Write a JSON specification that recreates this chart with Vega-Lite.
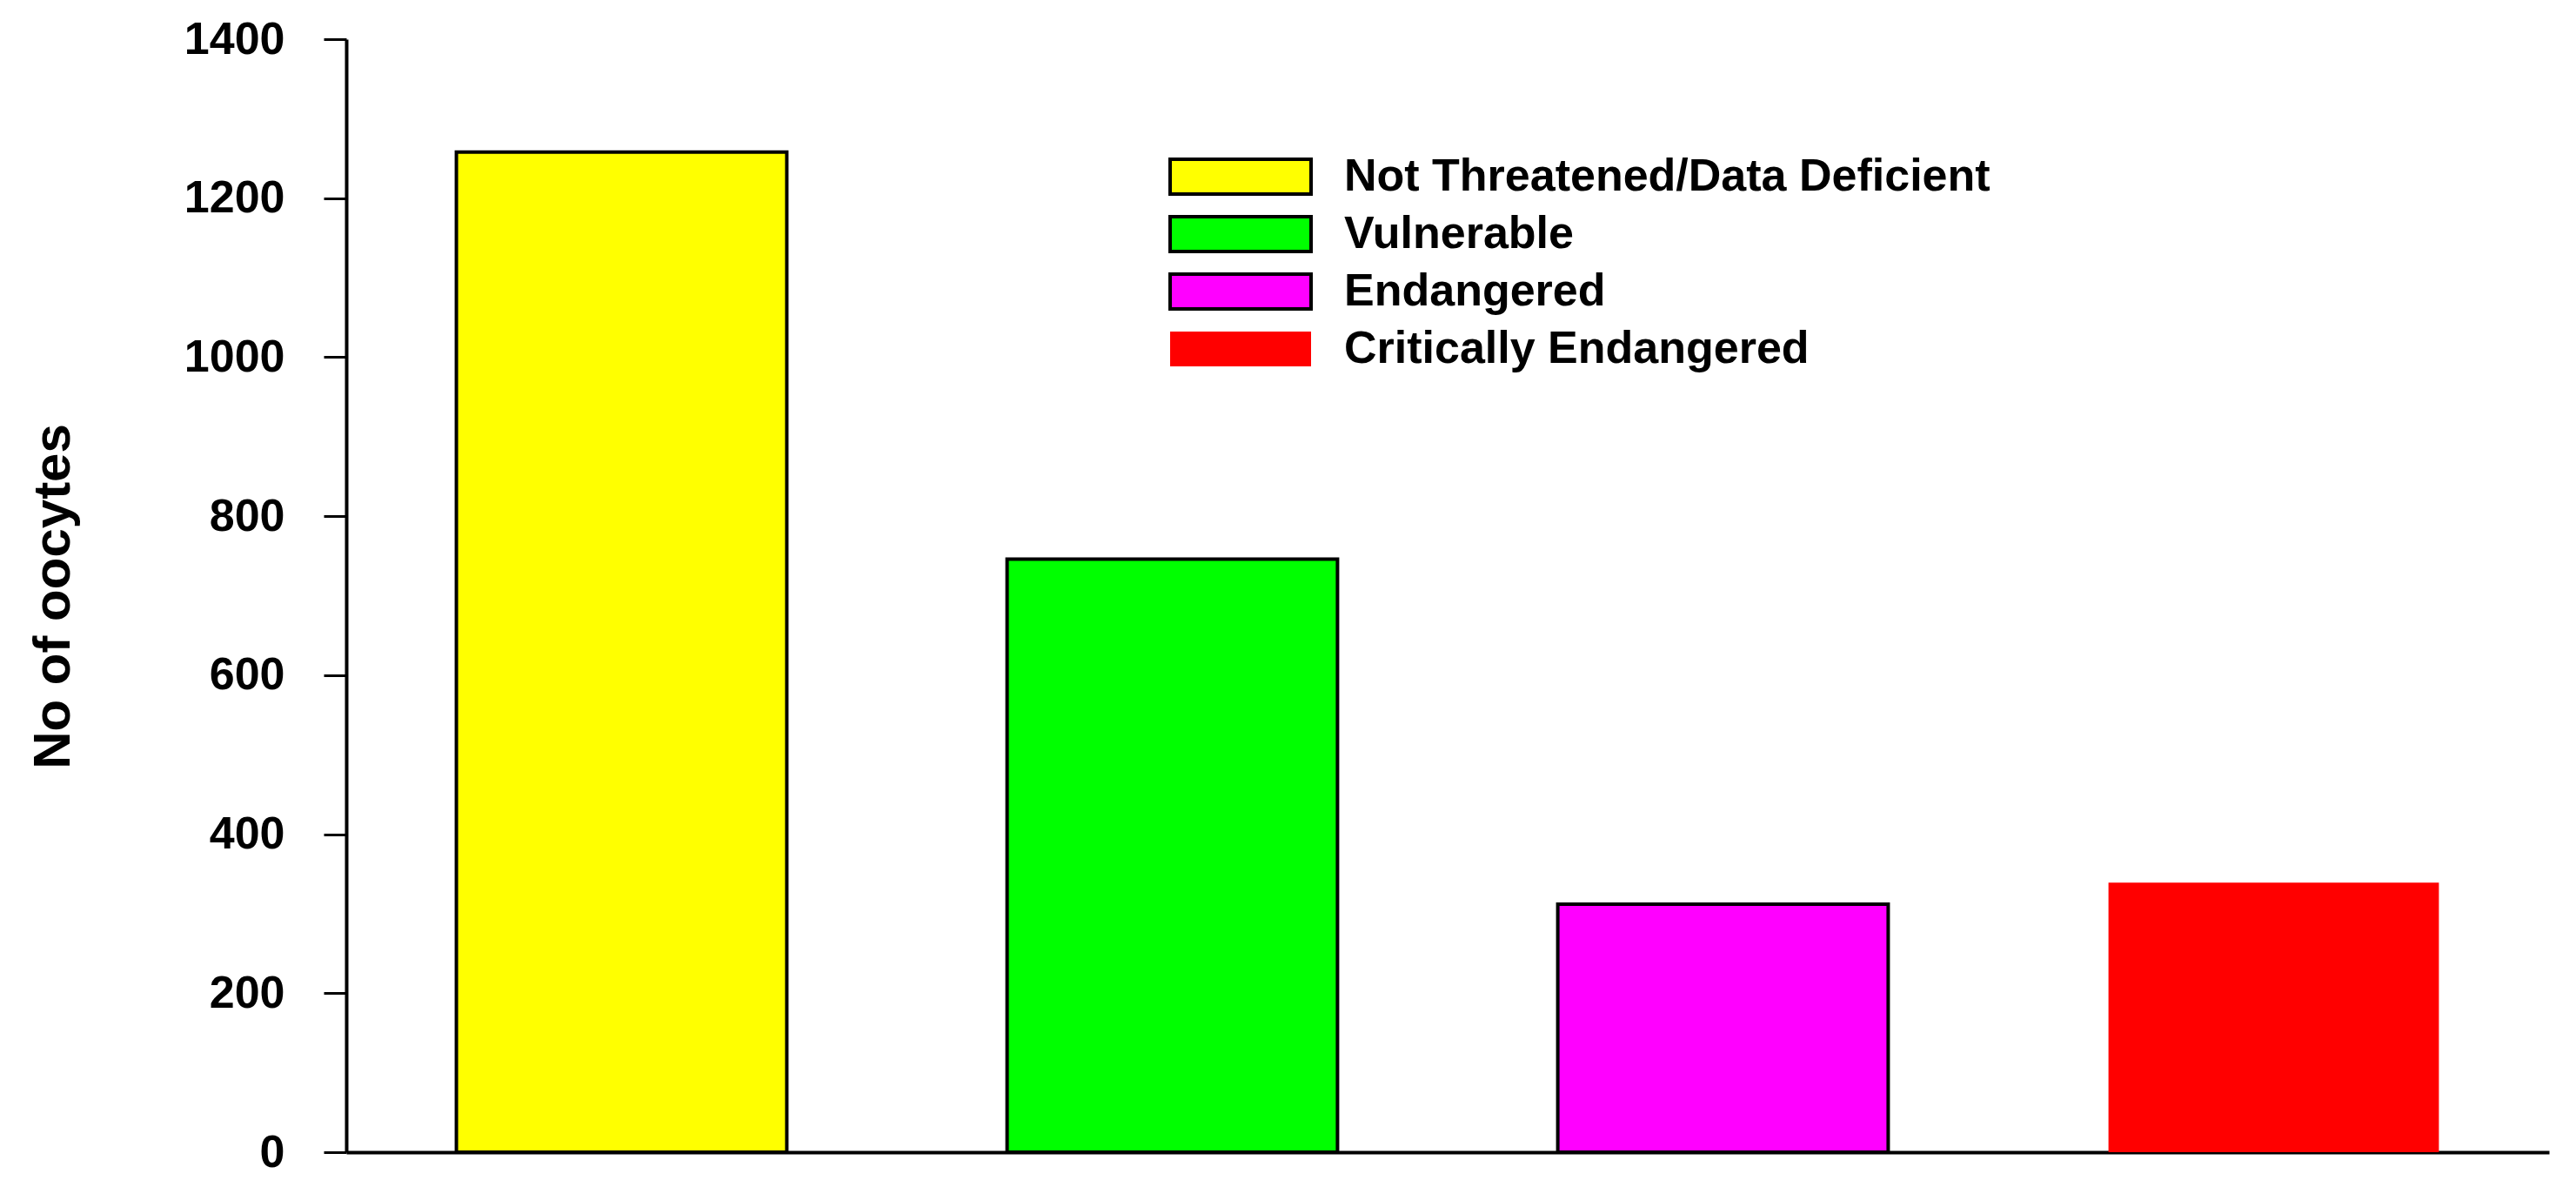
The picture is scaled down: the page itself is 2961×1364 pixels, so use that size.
{
  "$schema": "https://vega.github.io/schema/vega-lite/v6.json",
  "width": 2532,
  "height": 1279,
  "autosize": {"type": "none"},
  "padding": {"left": 398, "top": 45, "right": 31, "bottom": 40},
  "background": "white",
  "config": {
    "view": {"stroke": null},
    "font": "Liberation Sans"
  },
  "data": {
    "values": [
      {"status": "Not Threatened/Data Deficient", "oocytes": 1258},
      {"status": "Vulnerable", "oocytes": 746},
      {"status": "Endangered", "oocytes": 312},
      {"status": "Critically Endangered", "oocytes": 339}
    ]
  },
  "mark": {"type": "bar", "strokeWidth": 4},
  "encoding": {
    "x": {
      "field": "status",
      "type": "nominal",
      "sort": ["Not Threatened/Data Deficient", "Vulnerable", "Endangered", "Critically Endangered"],
      "scale": {"paddingInner": 0.4, "paddingOuter": 0.2},
      "axis": {"title": null, "labels": false, "ticks": false, "domainColor": "black", "domainWidth": 4}
    },
    "y": {
      "field": "oocytes",
      "type": "quantitative",
      "scale": {"domain": [0, 1400], "nice": false},
      "axis": {
        "title": "No of oocytes",
        "titleFontSize": 60,
        "titleFontWeight": "bold",
        "titleColor": "black",
        "titleX": -306,
        "titleY": 640,
        "titleAngle": -90,
        "titleBaseline": "bottom",
        "titleAlign": "center",
        "values": [0, 200, 400, 600, 800, 1000, 1200, 1400],
        "format": "d",
        "grid": false,
        "domainColor": "black",
        "domainWidth": 4,
        "tickColor": "black",
        "tickWidth": 3,
        "tickSize": 26,
        "labelFontSize": 52,
        "labelFontWeight": "bold",
        "labelColor": "black",
        "labelPadding": 45
      }
    },
    "fill": {
      "field": "status",
      "type": "nominal",
      "scale": {
        "domain": ["Not Threatened/Data Deficient", "Vulnerable", "Endangered", "Critically Endangered"],
        "range": ["#FFFF00", "#00FF00", "#FF00FF", "#FF0000"]
      },
      "legend": {
        "title": null,
        "orient": "none",
        "legendX": 941,
        "legendY": 132,
        "padding": 0,
        "symbolType": "M-4.05,-1H4.05V1H-4.05Z",
        "symbolSize": 1600,
        "symbolStrokeWidth": 4,
        "symbolOffset": 61,
        "symbolOpacity": 1,
        "labelOffset": 93,
        "labelFontSize": 52,
        "labelFontWeight": "bold",
        "labelColor": "black",
        "labelLimit": 1500,
        "rowPadding": 10
      }
    },
    "stroke": {
      "field": "status",
      "type": "nominal",
      "scale": {
        "domain": ["Not Threatened/Data Deficient", "Vulnerable", "Endangered", "Critically Endangered"],
        "range": ["black", "black", "black", "transparent"]
      },
      "legend": {
        "title": null,
        "orient": "none",
        "legendX": 941,
        "legendY": 132,
        "padding": 0,
        "symbolType": "M-4.05,-1H4.05V1H-4.05Z",
        "symbolSize": 1600,
        "symbolStrokeWidth": 4,
        "symbolOffset": 61,
        "symbolOpacity": 1,
        "labelOffset": 93,
        "labelFontSize": 52,
        "labelFontWeight": "bold",
        "labelColor": "black",
        "labelLimit": 1500,
        "rowPadding": 10
      }
    }
  }
}
